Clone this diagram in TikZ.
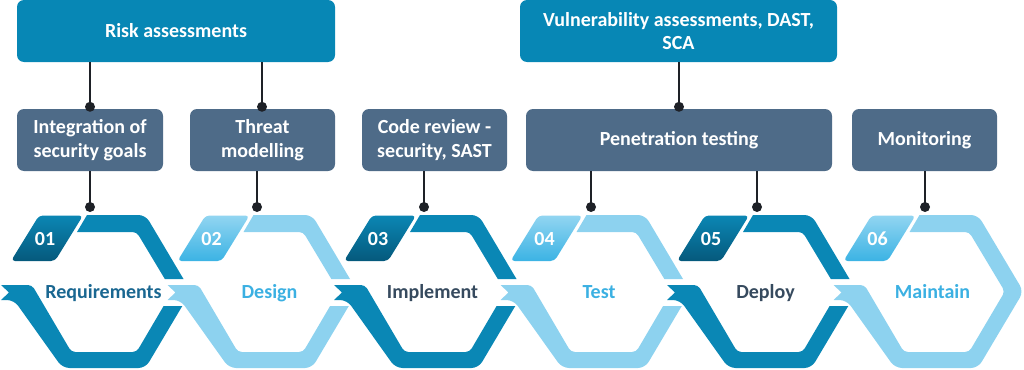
\documentclass[tikz,border=0pt]{standalone}
\usepackage{fontspec}
\setmainfont{Carlito}
\definecolor{topblue}{HTML}{0787B5}
\definecolor{slate}{HTML}{4E6B88}
\definecolor{bandD}{HTML}{0A87B5}
\definecolor{bandL}{HTML}{8DD2EF}
\definecolor{bdT}{HTML}{0B86B4}
\definecolor{bdB}{HTML}{05597C}
\definecolor{blT}{HTML}{92D5F1}
\definecolor{blB}{HTML}{3BB3E4}
\definecolor{txtA}{HTML}{1A6791}
\definecolor{txtS}{HTML}{364A5E}
\definecolor{txtL}{HTML}{3BB0E2}
\definecolor{connc}{HTML}{1E2127}
\begin{document}
\begin{tikzpicture}[x=1pt,y=-1pt,
  lbl/.style={font=\bfseries\fontsize{20}{23.5}\selectfont},
  box/.style={lbl, rounded corners=7pt, fill=slate, text=white, align=center,
    minimum height=62pt, inner sep=0pt},
  topbox/.style={box, fill=topblue},
  conn/.style={line width=2pt, draw=connc},
  dotc/.style={fill=connc},
  hexlabel/.style={lbl, anchor=base, inner sep=0pt},
  badgelabel/.style={lbl, text=white, anchor=base, inner sep=0pt}]
\useasboundingbox (0,0) rectangle (1024,369);
% hexagon bands 1-5
\foreach \c/\col in {104/bandD, 270.5/bandL, 437/bandD, 603.5/bandL, 770/bandD}{
  \fill[fill=\col] ({\c-17},215) [rounded corners=7pt] -- ({\c+41.5},215)
     [sharp corners] -- ({\c+79.5},279) -- ({\c+60.8},279)
     [rounded corners=4pt] -- ({\c+32.6},232) [sharp corners] -- ({\c-27},232) -- cycle;
  \fill[fill=\col] ({\c-103},285) [rounded corners=4pt] -- ({\c-72},285) -- ({\c-32.6},352)
     -- ({\c+32.6},352) [sharp corners] -- ({\c+59.6},306) -- ({\c+78.3},306)
     [rounded corners=7pt] -- ({\c+41.5},368) -- ({\c-41.5},368) -- ({\c-90},300)
     [sharp corners] -- ({\c-103},300) -- ({\c-95},292.5) -- cycle;
}
% hexagon band 6 (complete right vertex)
\def\c{936.5}
\fill[fill=bandL] ({\c-103},285) [rounded corners=4pt] -- ({\c-72},285) -- ({\c-32.6},352)
   -- ({\c+32.6},352) -- ({\c+68.3},291.5) -- ({\c+32.6},232) [sharp corners] -- ({\c-27},232)
   -- ({\c-17},215) [rounded corners=7pt] -- ({\c+41.5},215) -- ({\c+87},291.5)
   -- ({\c+41.5},368) -- ({\c-41.5},368) -- ({\c-90},300)
   [sharp corners] -- ({\c-103},300) -- ({\c-95},292.5) -- cycle;
% badges
\foreach \c/\bt/\bb/\n in {104/bdT/bdB/1, 270.5/blT/blB/2, 437/bdT/bdB/3,
    603.5/blT/blB/4, 770/bdT/bdB/5, 936.5/blT/blB/6}{
  \shade[top color=\bt, bottom color=\bb, rounded corners=4pt]
     ({\c-93},261) -- ({\c-49},261) -- ({\c-21},215.5) -- ({\c-65},215.5) -- cycle;
  \node[badgelabel] (n\n) at ({\c-59},245.5) {0\n};
}
% hexagon labels
\node[hexlabel, text=txtA] (l1) at (103.5,298) {Requirements};
\node[hexlabel, text=txtL] (l2) at (269.5,298) {Design};
\node[hexlabel, text=txtS] (l3) at (432.5,298) {Implement};
\node[hexlabel, text=txtL] (l4) at (599,298) {Test};
\node[hexlabel, text=txtS] (l5) at (765.5,298) {Deploy};
\node[hexlabel, text=txtL] (l6) at (932.5,298) {Maintain};
% boxes
\node[topbox, minimum width=318pt] (risk) at (176,31) {Risk assessments};
\node[topbox, minimum width=317pt] (vul) at (678.5,31) {Vulnerability assessments, DAST,\\SCA};
\node[box, minimum width=146pt] (int) at (90,140) {Integration of\\security goals};
\node[box, minimum width=145pt] (thr) at (262.5,140) {Threat\\modelling};
\node[box, minimum width=145pt] (code) at (434.5,140) {Code review -\\security, SAST};
\node[box, minimum width=306pt] (pen) at (679,140) {Penetration testing};
\node[box, minimum width=145pt] (mon) at (924.5,140) {Monitoring};
% hexagon top points
\coordinate (d1) at (90,207);
\coordinate (d2) at (257,207);
\coordinate (d3) at (424,207);
\coordinate (d4) at (591,207);
\coordinate (d5) at (757,207);
\coordinate (d6) at (925,207);
% connectors top
\coordinate (u1) at ([yshift=2pt]int.north);
\coordinate (u2) at ([xshift=-0.5pt,yshift=2pt]thr.north);
\coordinate (u3) at ([yshift=2pt]pen.north);
\draw[conn] (u1 |- risk.south) -- (u1);
\draw[conn] (u2 |- risk.south) -- (u2);
\draw[conn] (u3 |- vul.south) -- (u3);
% connectors bottom
\draw[conn] (d1 |- int.south) -- (d1);
\draw[conn] (d2 |- thr.south) -- (d2);
\draw[conn] (d3 |- code.south) -- (d3);
\draw[conn] (d4 |- pen.south) -- (d4);
\draw[conn] (d5 |- pen.south) -- (d5);
\draw[conn] (d6 |- mon.south) -- (d6);
\foreach \p in {u1,u2,u3,d1,d2,d3,d4,d5,d6}{
  \fill[dotc] (\p) circle[radius=5pt];
}
\end{tikzpicture}
\end{document}
